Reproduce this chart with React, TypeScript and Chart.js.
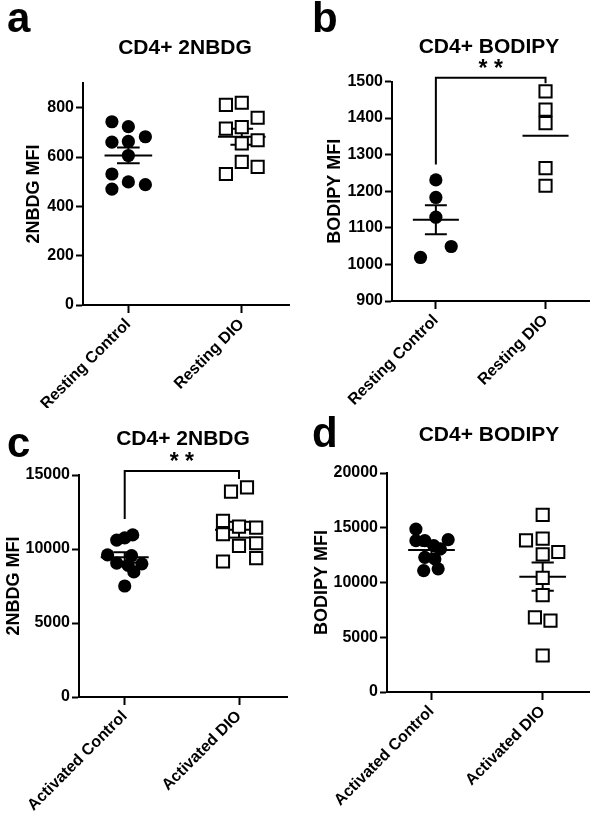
import React, { useEffect, useRef } from "react";
import { Chart, registerables } from "chart.js";

Chart.register(...registerables);

const FONT = '"Liberation Sans", Arial, Helvetica, sans-serif';

// ---------- Panel a : CD4+ 2NBDG (resting) ----------
const aCategories = ["Resting Control", "Resting DIO"];
const aYTicks = [0, 200, 400, 600, 800];
const aControl = [743, 723, 682, 660, 663, 606, 531, 499, 488, 470];
const aControlJitter = [-0.145, 0, 0.15, -0.145, 0, 0, -0.145, 0, 0.15, -0.145];
const aDIO = [811, 820, 759, 715, 721, 668, 655, 580, 560, 531];
const aDIOJitter = [-0.14, 0, 0.14, -0.14, 0, 0.14, 0, 0, 0.14, -0.14];

// ---------- Panel b : CD4+ BODIPY (resting) ----------
const bCategories = ["Resting Control", "Resting DIO"];
const bYTicks = [900, 1000, 1100, 1200, 1300, 1400, 1500];
const bControl = [1231, 1183, 1129, 1049, 1019];
const bControlJitter = [0, 0, 0, 0.14, -0.14];
const bDIO = [1473, 1423, 1386, 1263, 1215];
const bDIOJitter = [0, 0, 0, 0, 0];
const bBracket = [1273, 1510, 1495]; // left leg end, bar level, right leg end

// ---------- Panel c : CD4+ 2NBDG (activated) ----------
const cCategories = ["Activated Control", "Activated DIO"];
const cYTicks = [0, 5000, 10000, 15000];
const cControl = [10950, 10750, 10600, 9600, 9550, 9050, 9000, 8900, 8450, 7500];
const cControlJitter = [0.07, 0, -0.07, -0.15, 0.06, -0.07, 0.15, 0.03, 0.08, 0];
const cDIO = [13876, 14169, 11897, 11515, 11447, 10998, 10211, 10390, 9378, 9153];
const cDIOJitter = [-0.07, 0.07, -0.14, 0, 0.15, -0.14, 0, 0.15, 0.15, -0.14];
const cBracket = [12027, 15270, 14730];

// ---------- Panel d : CD4+ BODIPY (activated) ----------
const dCategories = ["Activated Control", "Activated DIO"];
const dYTicks = [0, 5000, 10000, 15000, 20000];
const dControl = [14882, 13818, 13818, 13364, 13909, 13064, 12300, 12155, 11091, 11245];
const dControlJitter = [-0.14, -0.14, -0.06, 0.02, 0.15, 0.08, -0.06, 0.03, -0.07, 0.06];
const dDIO = [16180, 13847, 14000, 12575, 12787, 10423, 8848, 6818, 6515, 3333];
const dDIOJitter = [0, -0.15, 0, 0, 0.14, 0, 0, -0.07, 0.07, 0];

type Group = { values: number[]; jitter: number[]; shape: "circle" | "square"; showSem: boolean };
type Panel = {
  letter: string;
  title: string;
  yTitle: string;
  categories: string[];
  yTicks: number[];
  yMin: number;
  yMax: number;
  xMin: number;
  xMax: number;
  groups: Group[];
  bracket?: number[];
  box: { x: number; y: number; w: number; h: number };
  area: { left: number; top: number; right: number; bottom: number };
  letterPos: { x: number; y: number };
  titlePos: { x: number; y: number };
  yTitleX: number;
};

const panels: Panel[] = [
  {
    letter: "a",
    title: "CD4+ 2NBDG",
    yTitle: "2NBDG MFI",
    categories: aCategories,
    yTicks: aYTicks,
    yMin: 0,
    yMax: 900,
    xMin: -0.4,
    xMax: 1.42,
    groups: [
      { values: aControl, jitter: aControlJitter, shape: "circle", showSem: true },
      { values: aDIO, jitter: aDIOJitter, shape: "square", showSem: true },
    ],
    box: { x: 0, y: 0, w: 300, h: 408 },
    area: { left: 83, top: 83, right: 290, bottom: 305 },
    letterPos: { x: 7, y: 32 },
    titlePos: { x: 185, y: 48.5 },
    yTitleX: 34,
  },
  {
    letter: "b",
    title: "CD4+ BODIPY",
    yTitle: "BODIPY MFI",
    categories: bCategories,
    yTicks: bYTicks,
    yMin: 900,
    yMax: 1500,
    xMin: -0.4,
    xMax: 1.4,
    groups: [
      { values: bControl, jitter: bControlJitter, shape: "circle", showSem: true },
      { values: bDIO, jitter: bDIOJitter, shape: "square", showSem: false },
    ],
    bracket: bBracket,
    box: { x: 300, y: 0, w: 300, h: 408 },
    area: { left: 392, top: 81.5, right: 597, bottom: 301 },
    letterPos: { x: 12, y: 32 },
    titlePos: { x: 189, y: 47 },
    yTitleX: 35,
  },
  {
    letter: "c",
    title: "CD4+ 2NBDG",
    yTitle: "2NBDG MFI",
    categories: cCategories,
    yTicks: cYTicks,
    yMin: 0,
    yMax: 15000,
    xMin: -0.4,
    xMax: 1.42,
    groups: [
      { values: cControl, jitter: cControlJitter, shape: "circle", showSem: true },
      { values: cDIO, jitter: cDIOJitter, shape: "square", showSem: true },
    ],
    bracket: cBracket,
    box: { x: 0, y: 408, w: 300, h: 409 },
    area: { left: 79, top: 475, right: 287, bottom: 697 },
    letterPos: { x: 7, y: 49 },
    titlePos: { x: 183, y: 31 },
    yTitleX: 14,
  },
  {
    letter: "d",
    title: "CD4+ BODIPY",
    yTitle: "BODIPY MFI",
    categories: dCategories,
    yTicks: dYTicks,
    yMin: 0,
    yMax: 20000,
    xMin: -0.4,
    xMax: 1.42,
    groups: [
      { values: dControl, jitter: dControlJitter, shape: "circle", showSem: true },
      { values: dDIO, jitter: dDIOJitter, shape: "square", showSem: true },
    ],
    box: { x: 300, y: 408, w: 300, h: 409 },
    area: { left: 387, top: 473, right: 595, bottom: 692 },
    letterPos: { x: 12, y: 39 },
    titlePos: { x: 189, y: 27.5 },
    yTitleX: 22,
  },
];

function meanOf(v: number[]) {
  return v.reduce((s, x) => s + x, 0) / v.length;
}
function semOf(v: number[]) {
  const m = meanOf(v);
  const ss = v.reduce((s, x) => s + (x - m) * (x - m), 0);
  return Math.sqrt(ss / (v.length - 1)) / Math.sqrt(v.length);
}

function lineDs(data: { x: number; y: number }[], clip = true) {
  return {
    type: "scatter" as const,
    data,
    showLine: true,
    pointRadius: 0,
    borderColor: "#000",
    borderWidth: 2,
    order: 1,
    clip: clip ? undefined : false,
  };
}

function buildDatasets(p: Panel) {
  const ds: any[] = [];
  p.groups.forEach((g, idx) => {
    const m = meanOf(g.values);
    const s = semOf(g.values);
    ds.push(lineDs([{ x: idx - 0.21, y: m }, { x: idx + 0.21, y: m }]));
    if (g.showSem) {
      ds.push(lineDs([{ x: idx, y: m - s }, { x: idx, y: m + s }]));
      ds.push(lineDs([{ x: idx - 0.1, y: m + s }, { x: idx + 0.1, y: m + s }]));
      ds.push(lineDs([{ x: idx - 0.1, y: m - s }, { x: idx + 0.1, y: m - s }]));
    }
    const square = g.shape === "square";
    ds.push({
      type: "scatter",
      data: g.values.map((v, i) => ({ x: idx + g.jitter[i], y: v })),
      showLine: false,
      pointStyle: square ? "rect" : "circle",
      pointRadius: square ? 8.6 : 6.6,
      pointBackgroundColor: square ? "#fff" : "#000",
      pointBorderColor: "#000",
      pointBorderWidth: square ? 2 : 0,
      order: 0,
    });
  });
  if (p.bracket) {
    const [l, top, r] = p.bracket;
    ds.push(
      lineDs(
        [
          { x: 0, y: l },
          { x: 0, y: top },
          { x: 1, y: top },
          { x: 1, y: r },
        ],
        false
      )
    );
  }
  return ds;
}

function PanelChart({ p }: { p: Panel }) {
  const ref = useRef<HTMLCanvasElement>(null);
  useEffect(() => {
    const canvas = ref.current;
    if (!canvas) return;
    const tickFont = { family: FONT, size: 16, weight: "bold" as const };
    const textPlugin = {
      id: "panelText" + p.letter,
      afterDraw(chart: any) {
        const ctx = chart.ctx as CanvasRenderingContext2D;
        const ca = chart.chartArea;
        ctx.save();
        ctx.fillStyle = "#000";
        ctx.font = `bold 42px ${FONT}`;
        ctx.textAlign = "left";
        ctx.textBaseline = "alphabetic";
        ctx.fillText(p.letter, p.letterPos.x, p.letterPos.y);
        ctx.font = `bold 21px ${FONT}`;
        ctx.textAlign = "center";
        ctx.textBaseline = "middle";
        ctx.fillText(p.title, p.titlePos.x, p.titlePos.y);
        if (p.bracket) {
          const xs = chart.scales.x;
          const ys = chart.scales.y;
          ctx.font = `bold 23px ${FONT}`;
          ctx.textBaseline = "alphabetic";
          ctx.fillText("* *", xs.getPixelForValue(0.5), ys.getPixelForValue(p.bracket[1]) - 2);
        }
        ctx.translate(p.yTitleX, (ca.top + ca.bottom) / 2);
        ctx.rotate(-Math.PI / 2);
        ctx.font = `bold 18px ${FONT}`;
        ctx.textBaseline = "middle";
        ctx.fillText(p.yTitle, 0, 0);
        ctx.restore();
      },
    };
    const chart = new Chart(canvas, {
      type: "scatter",
      data: { datasets: buildDatasets(p) },
      options: {
        responsive: false,
        animation: false,
        devicePixelRatio: 1,
        layout: {
          padding: {
            left: 0,
            top: p.area.top - p.box.y,
            right: p.box.x + p.box.w - p.area.right,
            bottom: 0,
          },
        },
        plugins: {
          legend: { display: false },
          tooltip: { enabled: false },
          title: { display: false },
        },
        scales: {
          x: {
            type: "linear",
            min: p.xMin,
            max: p.xMax,
            afterBuildTicks: (s: any) => {
              s.ticks = p.categories.map((_, i) => ({ value: i }));
            },
            afterFit: (s: any) => {
              s.height = p.box.y + p.box.h - p.area.bottom;
            },
            ticks: {
              autoSkip: false,
              minRotation: 45,
              maxRotation: 45,
              padding: 2,
              color: "#000",
              font: tickFont,
              callback: (v: any) => p.categories[Math.round(Number(v))] ?? "",
            },
            grid: {
              drawOnChartArea: false,
              drawTicks: true,
              tickLength: 8,
              tickWidth: 2,
              tickColor: "#000",
            },
            border: { display: true, color: "#000", width: 2 },
          },
          y: {
            type: "linear",
            min: p.yMin,
            max: p.yMax,
            afterBuildTicks: (s: any) => {
              s.ticks = p.yTicks.map((v) => ({ value: v }));
            },
            afterFit: (s: any) => {
              s.width = p.area.left - p.box.x;
            },
            ticks: {
              padding: 2,
              color: "#000",
              font: tickFont,
              callback: (v: any) => String(v),
            },
            grid: {
              drawOnChartArea: false,
              drawTicks: true,
              tickLength: 7,
              tickWidth: 2,
              tickColor: "#000",
            },
            border: { display: true, color: "#000", width: 2 },
          },
        },
      },
      plugins: [textPlugin],
    } as any);
    return () => chart.destroy();
  }, [p]);
  return (
    <canvas
      ref={ref}
      width={p.box.w}
      height={p.box.h}
      style={{
        position: "absolute",
        left: p.box.x,
        top: p.box.y,
        width: p.box.w,
        height: p.box.h,
      }}
    />
  );
}

export default function App() {
  return (
    <div
      style={{
        position: "absolute",
        left: 0,
        top: 0,
        width: 600,
        height: 817,
        background: "#fff",
        overflow: "hidden",
      }}
    >
      {panels.map((p) => (
        <PanelChart key={p.letter} p={p} />
      ))}
    </div>
  );
}
